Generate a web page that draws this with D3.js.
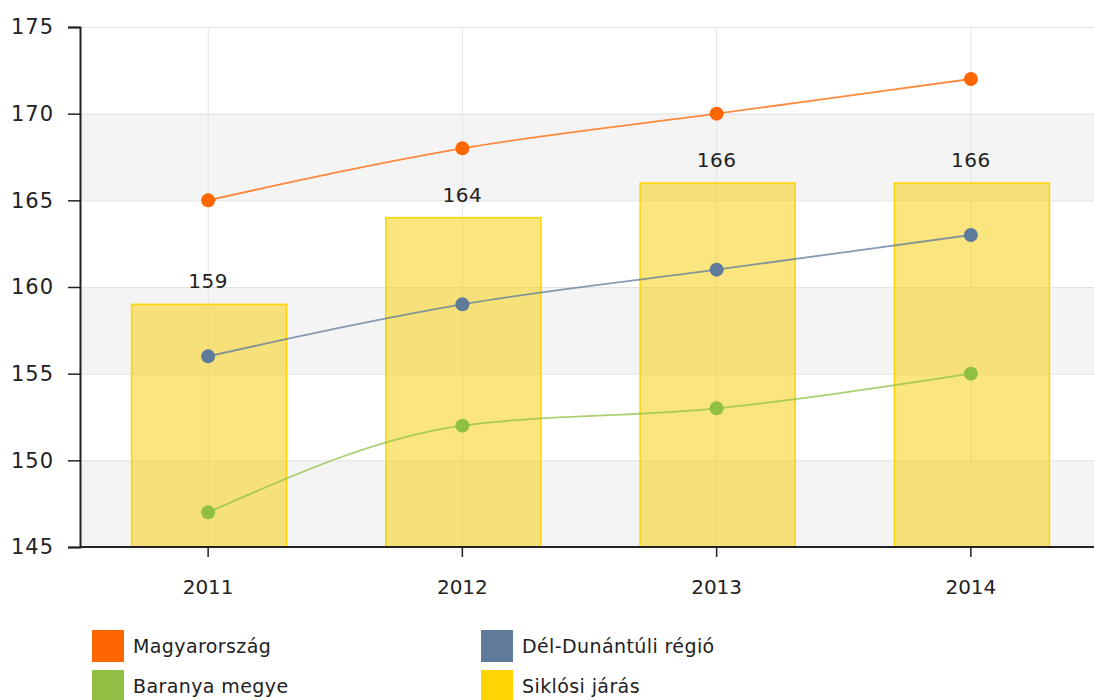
<!DOCTYPE html>
<html lang="hu">
<head>
<meta charset="UTF-8">
<title>Siklósi járás</title>
<style>
  body { margin: 0; background: #fff; }
  svg { display: block; font-family: "DejaVu Sans", Verdana, sans-serif; }
</style>
</head>
<body>
<div id="chart"></div>
<script src="https://d3js.org/d3.v7.min.js"></script>
<script>
const years = ['2011', '2012', '2013', '2014'];
const magyarorszag = [165, 168, 170, 172];
const delDunantul = [156, 159, 161, 163];
const baranya = [147, 152, 153, 155];
const siklos = [159, 164, 166, 166];
const yTicks = [145, 150, 155, 160, 165, 170, 175];

const lineSeries = [
  { name: 'Magyarország', values: magyarorszag, color: '#ff6600' },
  { name: 'Dél-Dunántúli régió', values: delDunantul, color: '#5f7a9a' },
  { name: 'Baranya megye', values: baranya, color: '#8fc043' }
];
const barColor = '#ffd400';
const FS = 20;

const W = 1094, H = 700;
const plotLeft = 80, plotRight = 1098, plotTop = 27, plotBottom = 547;

const svg = d3.select('#chart').append('svg')
  .attr('width', W).attr('height', H);

const x = d3.scaleBand().domain(years).range([plotLeft + 1, plotRight]);
const y = d3.scaleLinear().domain([145, 175]).range([plotBottom, plotTop]);
const cx = d => x(d) + x.bandwidth() / 2;

// alternating bands
for (let i = 0; i < yTicks.length - 1; i += 2) {
  svg.append('rect')
    .attr('x', plotLeft).attr('width', W - plotLeft)
    .attr('y', y(yTicks[i + 1])).attr('height', y(yTicks[i]) - y(yTicks[i + 1]))
    .attr('fill', '#f4f4f4');
}

// grid
svg.append('g').selectAll('line').data(yTicks).join('line')
  .attr('x1', plotLeft).attr('x2', W)
  .attr('y1', d => y(d) + 0.5).attr('y2', d => y(d) + 0.5)
  .attr('stroke', '#e3e3e3');
svg.append('g').selectAll('line').data(years).join('line')
  .attr('x1', d => cx(d)).attr('x2', d => cx(d))
  .attr('y1', plotTop).attr('y2', plotBottom)
  .attr('stroke', '#e3e3e3');

// bars
const barW = x.bandwidth() * 0.61;
svg.append('g').selectAll('rect').data(siklos).join('rect')
  .attr('x', (d, i) => cx(years[i]) - barW / 2 + 1)
  .attr('width', barW)
  .attr('y', d => y(d))
  .attr('height', d => y(145) - y(d))
  .attr('fill', '#f5cc00').attr('fill-opacity', 0.5)
  .attr('stroke', barColor).attr('stroke-width', 1.5);

svg.append('g').selectAll('text').data(siklos).join('text')
  .attr('x', (d, i) => cx(years[i]))
  .attr('y', d => y(d) - 16)
  .attr('text-anchor', 'middle')
  .attr('font-size', FS).attr('fill', '#222')
  .attr('letter-spacing', 0.5)
  .text(d => d);

// lines
const line = d3.line()
  .x((d, i) => cx(years[i]))
  .y(d => y(d))
  .curve(d3.curveMonotoneX);

lineSeries.forEach(s => {
  svg.append('path').datum(s.values)
    .attr('d', line)
    .attr('fill', 'none')
    .attr('stroke', s.color).attr('stroke-width', 1.8).attr('stroke-opacity', 0.75);
  svg.append('g').selectAll('circle').data(s.values).join('circle')
    .attr('cx', (d, i) => cx(years[i]))
    .attr('cy', d => y(d))
    .attr('r', 7)
    .attr('fill', s.color);
});

// axes
const yAxis = svg.append('g')
  .attr('transform', `translate(${plotLeft},0)`)
  .call(d3.axisLeft(y).tickValues(yTicks).tickSize(12).tickPadding(14));
const xAxis = svg.append('g')
  .attr('transform', `translate(0,${plotBottom})`)
  .call(d3.axisBottom(x).tickSize(10).tickPadding(23));
[yAxis, xAxis].forEach(a => {
  a.select('.domain').attr('stroke', '#222').attr('stroke-width', 2);
  a.selectAll('.tick line').attr('stroke', '#222').attr('stroke-width', 1.5);
  a.selectAll('.tick text').attr('font-size', FS).attr('fill', '#222')
    .attr('font-family', '"DejaVu Sans", Verdana, sans-serif');
});
yAxis.selectAll('.tick text').attr('font-size', FS + 1).attr('letter-spacing', 1);
xAxis.select('.domain').attr('d', `M${plotLeft},0H${W}`);

// legend
const legendItems = [
  { name: lineSeries[0].name, color: lineSeries[0].color },
  { name: lineSeries[1].name, color: lineSeries[1].color },
  { name: lineSeries[2].name, color: lineSeries[2].color },
  { name: 'Siklósi járás', color: barColor }
];
const legend = svg.append('g');
legendItems.forEach((it, i) => {
  const gx = i % 2 === 0 ? 92 : 481;
  const gy = 630 + Math.floor(i / 2) * 40;
  legend.append('rect')
    .attr('x', gx).attr('y', gy).attr('width', 32).attr('height', 32)
    .attr('fill', it.color);
  legend.append('text')
    .attr('x', gx + 41).attr('y', gy + 23)
    .attr('font-size', FS - 1).attr('fill', '#222')
    .attr('letter-spacing', 0.4)
    .text(it.name);
});
</script>
</body>
</html>
